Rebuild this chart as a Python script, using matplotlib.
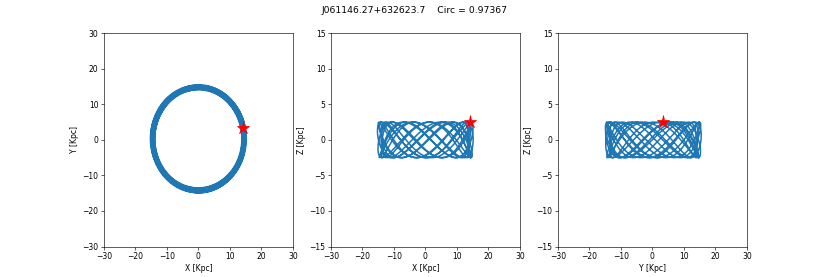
import numpy as np
import matplotlib.pyplot as plt

star_name = "J061146.27+632623.7"
circ = 0.97367

# orbit envelope (Kpc)
star_xyz = [14.3, 3.3, 2.5]
ring_radius = 13.8
ring_centre = [0.0, 0.3]
epicycle_amp = 1.4
z_amp = 2.5
# frequency ratios (per azimuthal turn) and number of turns drawn
freq_vert = 2.618
freq_epi = 1.37
n_turns = 9

t = np.linspace(0, n_turns * 2 * np.pi, 8000)
phi0 = np.arctan2(star_xyz[1], star_xyz[0])
r = ring_radius + epicycle_amp * 0.5 * (np.cos(freq_epi * t) + 1)
x = ring_centre[0] + r * np.cos(phi0 + t)
y = ring_centre[1] + r * np.sin(phi0 + t)
z = z_amp * np.cos(freq_vert * t)

fig, axs = plt.subplots(1, 3, figsize=(830 / 55.34, 277 / 55.34), dpi=55.34)

axs[0].plot(x, y, lw=2)
axs[0].plot(star_xyz[0], star_xyz[1], "*", color="red", markersize=17)
axs[0].set_xlim(-30, 30)
axs[0].set_ylim(-30, 30)
axs[0].set_xlabel("X [Kpc]")
axs[0].set_ylabel("Y [Kpc]")

axs[1].plot(x, z, lw=2)
axs[1].plot(star_xyz[0], star_xyz[2], "*", color="red", markersize=17)
axs[1].set_xlim(-30, 30)
axs[1].set_ylim(-15, 15)
axs[1].set_xlabel("X [Kpc]")
axs[1].set_ylabel("Z [Kpc]")

axs[2].plot(y, z, lw=2)
axs[2].plot(star_xyz[1], star_xyz[2], "*", color="red", markersize=17)
axs[2].set_xlim(-30, 30)
axs[2].set_ylim(-15, 15)
axs[2].set_xlabel("Y [Kpc]")
axs[2].set_ylabel("Z [Kpc]")

fig.suptitle(star_name + "    Circ = " + str(circ))
fig.savefig("out.png", dpi=55.34)
